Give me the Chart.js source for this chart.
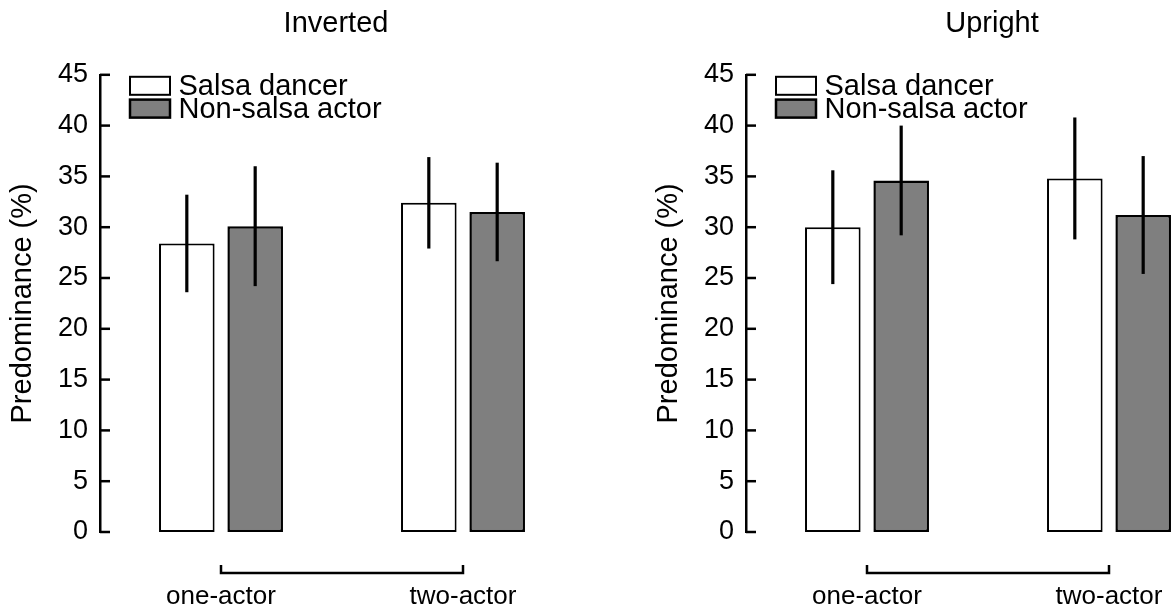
<!DOCTYPE html>
<html>
<head>
<meta charset="utf-8">
<script src="https://cdn.jsdelivr.net/npm/chart.js@4.4.0/dist/chart.umd.min.js"></script>
<style>
  html, body { margin: 0; padding: 0; background: #fff; overflow: hidden; }
  #wrap { position: relative; width: 1174px; height: 610px; overflow: hidden; }
  canvas { position: absolute; top: 0; }
</style>
</head>
<body>
<div id="wrap">
  <canvas id="inverted" width="672" height="610" style="left:0"></canvas>
  <canvas id="upright" width="692" height="610" style="left:646px"></canvas>
</div>
<script>
const categories = ['one-actor', 'two-actor'];
const seriesNames = ['Salsa dancer', 'Non-salsa actor'];
const yTicks = [0, 5, 10, 15, 20, 25, 30, 35, 40, 45];

// Inverted panel
const invertedSalsa = [28.4, 32.4];
const invertedSalsaErr = [4.8, 4.5];
const invertedNonSalsa = [30.1, 31.5];
const invertedNonSalsaErr = [5.9, 4.85];

// Upright panel
const uprightSalsa = [30.0, 34.8];
const uprightSalsaErr = [5.6, 6.0];
const uprightNonSalsa = [34.6, 31.2];
const uprightNonSalsaErr = [5.4, 5.8];

const FONT = "'Liberation Sans', Arial, Helvetica, sans-serif";
Chart.defaults.font.family = FONT;
Chart.defaults.color = '#000';

// error bars, inward ticks, bracket under the groups and the in-plot legend
const extras = {
  id: 'extras',
  afterDatasetsDraw(chart) {
    const ctx = chart.ctx, x = chart.scales.x, y = chart.scales.y, area = chart.chartArea;
    ctx.save();
    ctx.strokeStyle = '#000';
    ctx.lineCap = 'butt';

    ctx.lineWidth = 3.2;
    chart.data.datasets.forEach((ds, i) => {
      chart.getDatasetMeta(i).data.forEach((bar, j) => {
        const v = ds.data[j], e = ds.errors[j];
        ctx.beginPath();
        ctx.moveTo(bar.x, y.getPixelForValue(v + e));
        ctx.lineTo(bar.x, y.getPixelForValue(v - e));
        ctx.stroke();
      });
    });

    ctx.lineWidth = 2.5;
    y.ticks.forEach(t => {
      const py = y.getPixelForValue(t.value);
      ctx.beginPath();
      ctx.moveTo(area.left, py);
      ctx.lineTo(area.left + 10, py);
      ctx.stroke();
    });

    const x0 = x.getPixelForValue(0), x1 = x.getPixelForValue(1);
    const by = area.bottom + 41;
    ctx.beginPath();
    ctx.moveTo(x0, by - 8);
    ctx.lineTo(x0, by);
    ctx.lineTo(x1, by);
    ctx.lineTo(x1, by - 8);
    ctx.stroke();

    // legend
    const lx = area.left + 30, ly = area.top + 2;
    ctx.font = '29px ' + FONT;
    ctx.textBaseline = 'alphabetic';
    chart.data.datasets.forEach((ds, i) => {
      const top = ly + i * 22.8;
      ctx.fillStyle = ds.backgroundColor;
      ctx.fillRect(lx, top, 40, 18);
      ctx.lineWidth = ds.borderWidth;
      ctx.strokeStyle = ds.borderColor;
      ctx.strokeRect(lx, top, 40, 18);
      ctx.fillStyle = '#000';
      ctx.fillText(ds.label, lx + 48.5, top + 18.3);
    });
    ctx.restore();
  }
};

function makeChart(id, title, salsa, salsaErr, nonSalsa, nonSalsaErr, rightGap) {
  return new Chart(document.getElementById(id), {
    type: 'bar',
    data: {
      labels: categories,
      datasets: [{
        label: seriesNames[0],
        data: salsa,
        errors: salsaErr,
        backgroundColor: '#ffffff',
        borderColor: '#000',
        borderWidth: 2,
        borderSkipped: false
      }, {
        label: seriesNames[1],
        data: nonSalsa,
        errors: nonSalsaErr,
        backgroundColor: '#7f7f7f',
        borderColor: '#000',
        borderWidth: 2.5,
        borderSkipped: false
      }]
    },
    options: {
      responsive: false,
      animation: false,
      categoryPercentage: 0.565,
      barPercentage: 0.813,
      layout: { padding: 0 },
      plugins: {
        title: {
          display: true,
          text: title,
          color: '#000',
          font: { size: 29, weight: 'normal' },
          padding: { top: 7, bottom: 33 }
        },
        legend: { display: false },
        tooltip: { enabled: false }
      },
      scales: {
        x: {
          afterFit: s => { s.height = 78; },
          grid: { display: false, drawTicks: false },
          border: { display: false },
          ticks: { padding: 52, maxRotation: 0, minRotation: 0, font: { size: 26, lineHeight: 1 }, color: '#000' }
        },
        y: {
          min: 0,
          max: 45,
          afterBuildTicks: s => { s.ticks = yTicks.map(v => ({ value: v })); },
          afterFit: s => { s.width = 100; },
          grid: { display: false, drawTicks: false },
          border: { display: true, color: '#000', width: 2.5 },
          ticks: { padding: 12, font: { size: 27 }, color: '#000' },
          title: {
            display: true,
            text: 'Predominance (%)',
            color: '#000',
            font: { size: 29 },
            padding: { top: 6, bottom: 0 }
          }
        },
        // empty space on the right so the title centres like the original
        gap: {
          position: 'right',
          grid: { display: false, drawTicks: false },
          border: { display: false },
          ticks: { display: false },
          afterFit: s => { s.width = rightGap; }
        }
      }
    },
    plugins: [extras]
  });
}

makeChart('inverted', 'Inverted', invertedSalsa, invertedSalsaErr, invertedNonSalsa, invertedNonSalsaErr, 88);
makeChart('upright', 'Upright', uprightSalsa, uprightSalsaErr, uprightNonSalsa, uprightNonSalsaErr, 108);
</script>
</body>
</html>
